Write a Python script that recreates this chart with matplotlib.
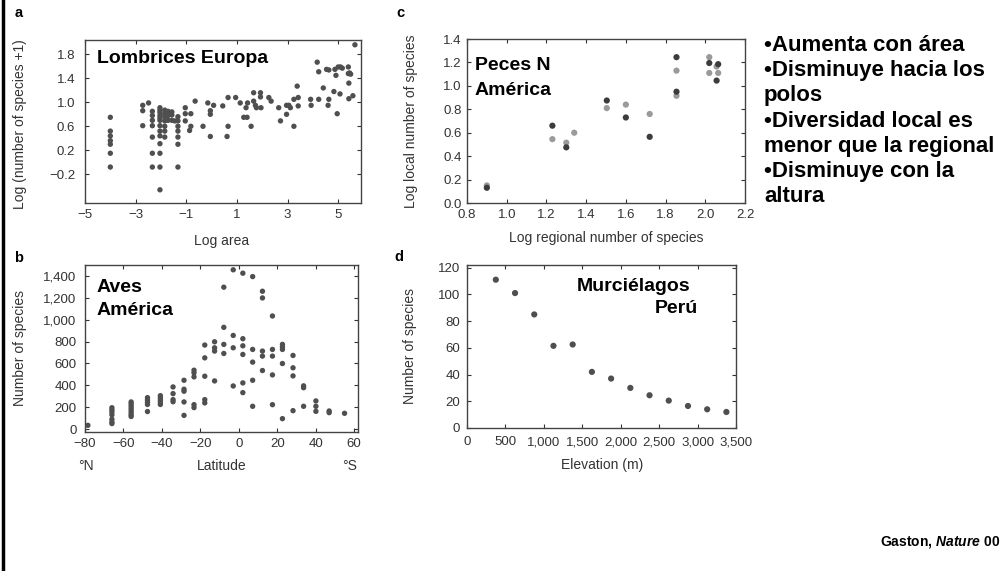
import matplotlib
matplotlib.use("Agg")
import matplotlib.pyplot as plt
from matplotlib.lines import Line2D

plt.rcParams['font.family'] = ['Liberation Sans', 'DejaVu Sans']
plt.rcParams['mathtext.fontset'] = 'custom'
plt.rcParams['mathtext.it'] = 'Liberation Sans:italic:bold'
plt.rcParams['mathtext.rm'] = 'Liberation Sans:bold'

# --- a: earthworms Europe (log area vs log species+1)
worm_x = [-4, -4, -4, -4, -4, -4, -4,
          -2.72, -2.72, -2.72, -2.49,
          -2.34, -2.34, -2.34, -2.34, -2.34, -2.34, -2.34,
          -2.04, -2.04, -2.04, -2.04, -2.04, -2.04, -2.04, -2.04, -2.04, -2.04, -2.04, -2.04, -2.04,
          -1.85, -1.85, -1.85, -1.85, -1.85, -1.85, -1.85,
          -1.72, -1.72, -1.72, -1.57, -1.57, -1.57, -1.45,
          -1.33, -1.33, -1.33, -1.33, -1.33, -1.33, -1.33,
          -1.04, -1.04, -1.04, -0.87, -0.82, -0.82, -0.65, -0.34, -0.15,
          -0.05, -0.05, -0.05, 0.08, 0.44, 0.65, 0.65, 0.61, 0.95, 1.13,
          1.27, 1.40, 1.36, 1.42, 1.56, 1.66, 1.66, 1.73, 1.77, 1.93, 1.93, 1.95,
          2.26, 2.35, 2.65, 2.72, 2.96, 2.96, 3.05, 3.11, 3.25, 3.25, 3.38, 3.42, 3.42,
          3.91, 3.93, 4.17, 4.23, 4.23, 4.41, 4.54, 4.60, 4.63, 4.63, 4.83, 4.87, 4.91,
          4.96, 5.0, 5.09, 5.07, 5.16, 5.40, 5.40, 5.45, 5.42, 5.42, 5.49, 5.58, 5.66]
worm_y = [0.75, 0.52, 0.44, 0.36, 0.30, 0.15, -0.08,
          0.95, 0.86, 0.61, 0.99,
          0.85, 0.78, 0.70, 0.61, 0.42, 0.15, -0.08,
          0.91, 0.87, 0.83, 0.78, 0.74, 0.70, 0.61, 0.52, 0.44, 0.31, 0.15, -0.08, -0.46,
          0.87, 0.81, 0.76, 0.69, 0.60, 0.52, 0.42,
          0.85, 0.78, 0.70, 0.84, 0.79, 0.70, 0.69,
          0.76, 0.69, 0.60, 0.52, 0.42, 0.30, -0.08,
          0.91, 0.81, 0.69, 0.53, 0.81, 0.60, 1.02, 0.60, 0.99,
          0.86, 0.80, 0.43, 0.95, 0.94, 1.08, 0.60, 0.43, 1.08, 0.99,
          0.75, 0.75, 0.91, 0.99, 0.60, 1.16, 1.02, 0.95, 0.91, 1.16, 1.09, 0.91,
          1.08, 1.02, 0.91, 0.69, 0.95, 0.80, 0.95, 0.91, 0.60, 1.05, 1.27, 1.08, 0.94,
          1.05, 0.95, 1.67, 1.51, 1.05, 1.24, 1.55, 0.95, 1.54, 1.05, 1.18, 1.55, 1.45,
          0.81, 1.59, 1.59, 1.14, 1.57, 1.59, 1.48, 1.49, 1.32, 1.06, 1.47, 1.11, 1.96]

# --- b: birds America (latitude vs species)
bird_lat = [-78.5,
            -66, -66, -66, -66, -66, -66, -66,
            -56, -56, -56, -56, -56, -56, -56, -56,
            -47.5, -47.5, -47.5, -47.5, -47.5,
            -40.8, -40.8, -40.8, -40.8, -40.8,
            -34.2, -34.2, -34.2, -34.2,
            -28.5, -28.5, -28.5, -28.5, -28.5,
            -23.3, -23.3, -23.3, -23.3, -23.3,
            -17.7, -17.7, -17.7, -17.7, -17.7,
            -12.6, -12.6, -12.6, -12.6,
            -7.8, -7.8, -7.8, -7.8,
            -2.9, -2.9, -2.9, -2.9,
            2.1, 2.1, 2.1, 2.1, 2.1, 2.1,
            7.2, 7.2, 7.2, 7.2, 7.2,
            12.3, 12.3, 12.3, 12.3, 12.3,
            17.5, 17.5, 17.5, 17.5, 17.5,
            22.7, 22.7, 22.7, 22.7, 22.7,
            28.2, 28.2, 28.2, 28.2,
            33.7, 33.7, 33.7,
            40.1, 40.1, 40.1,
            47, 47, 55]
bird_n = [34,
          195, 175, 155, 130, 90, 65, 50,
          248, 230, 210, 190, 170, 150, 130, 115,
          287, 265, 245, 225, 160,
          305, 285, 265, 245, 225,
          385, 324, 269, 250,
          446, 364, 346, 248, 125,
          538, 514, 477, 223, 196,
          768, 651, 483, 269, 239,
          798, 743, 713, 440,
          1297, 930, 774, 691,
          1456, 856, 743, 394,
          1425, 826, 761, 682, 422, 333,
          1394, 728, 612, 446, 208,
          1260, 1199, 713, 667, 535,
          1034, 728, 667, 495, 223,
          774, 752, 728, 599, 95,
          673, 560, 486, 168,
          395, 378, 208,
          257, 208, 162,
          165, 150, 144]

# --- c: fishes N America (regional vs local), two groups
fish_dark_x = [0.90, 1.23, 1.30, 1.504, 1.60, 1.72, 1.855, 1.855, 2.02, 2.057, 2.065]
fish_dark_y = [0.13, 0.66, 0.475, 0.875, 0.73, 0.565, 1.245, 0.95, 1.195, 1.045, 1.185]
fish_light_x = [0.90, 1.23, 1.30, 1.34, 1.504, 1.60, 1.72, 1.855, 1.855, 2.02, 2.02, 2.057, 2.065]
fish_light_y = [0.15, 0.545, 0.515, 0.60, 0.81, 0.84, 0.76, 1.13, 0.915, 1.245, 1.11, 1.165, 1.11]

# --- d: bats Peru (elevation vs species)
elevation = [375, 625, 875, 1125, 1375, 1625, 1875, 2125, 2375, 2625, 2875, 3125, 3375]
bat_n = [111, 101, 85, 61.5, 62.5, 42, 37, 30, 24.5, 20.5, 16.5, 14, 12]

bullets = ['•Aumenta con área', '•Disminuye hacia los', 'polos',
           '•Diversidad local es', 'menor que la regional',
           '•Disminuye con la', 'altura']

W, H = 1005, 571
fig = plt.figure(figsize=(W / 100, H / 100), dpi=100)
dot = '#4f4f4f'
ink = '#333333'


def rect(l, t, r, b):
    return [l / W, 1 - b / H, (r - l) / W, (b - t) / H]


def ft(x, y, s, **kw):
    kw.setdefault('color', ink)
    return fig.text(x / W, 1 - y / H, s, **kw)


def style(ax, xpad, ypad):
    ax.tick_params(direction='in', top=True, right=True, length=3, width=0.8,
                   colors=ink, labelsize=9.5)
    ax.tick_params(axis='x', pad=xpad)
    ax.tick_params(axis='y', pad=ypad)
    for sp in ax.spines.values():
        sp.set_color('#444444')
        sp.set_linewidth(1.0)


def minus(v, fmt):
    return fmt.format(v).replace('-', '\u2212')


# panel a
ax = fig.add_axes(rect(85, 40, 361, 203))
ax.scatter(worm_x, worm_y, s=15, color=dot, edgecolors='none')
ax.set_xlim(-5, 5.9)
ax.set_ylim(-0.68, 2.04)
xt = [-5, -3, -1, 1, 3, 5]
ax.set_xticks(xt, [minus(v, '{}') for v in xt])
yt = [-0.2, 0.2, 0.6, 1.0, 1.4, 1.8]
ax.set_yticks(yt, [minus(v, '{:.1f}') for v in yt])
style(ax, 4, 7)

# panel b
ax = fig.add_axes(rect(85, 265, 358, 432))
ax.scatter(bird_lat, bird_n, s=15, color=dot, edgecolors='none')
ax.set_xlim(-80, 62)
ax.set_ylim(-27, 1500)
xt = list(range(-80, 61, 20))
ax.set_xticks(xt, [minus(v, '{}') for v in xt])
yt = list(range(0, 1401, 200))
ax.set_yticks(yt, ['{:,}'.format(v) for v in yt])
style(ax, 4, 6)

# panel c
ax = fig.add_axes(rect(467, 39, 745, 203))
ax.scatter(fish_light_x, fish_light_y, s=20, color='#9a9a9a', edgecolors='none')
ax.scatter(fish_dark_x, fish_dark_y, s=20, color='#3c3c3c', edgecolors='none')
ax.set_xlim(0.8, 2.2)
ax.set_ylim(0, 1.4)
xt = [0.8, 1.0, 1.2, 1.4, 1.6, 1.8, 2.0, 2.2]
ax.set_xticks(xt, ['{:.1f}'.format(v) for v in xt])
yt = [0.0, 0.2, 0.4, 0.6, 0.8, 1.0, 1.2, 1.4]
ax.set_yticks(yt, ['{:.1f}'.format(v) for v in yt])
style(ax, 4, 4)

# panel d
ax = fig.add_axes(rect(467, 265, 736, 428))
ax.scatter(elevation, bat_n, s=20, color=dot, edgecolors='none')
ax.set_xlim(0, 3500)
ax.set_ylim(0, 122)
xt = list(range(0, 3501, 500))
ax.set_xticks(xt, ['{:,}'.format(v) for v in xt])
ax.set_yticks(list(range(0, 121, 20)))
style(ax, 6, 5)

# axis labels
lab = dict(fontsize=10, ha='center', va='center')
ft(20, 124, 'Log (number of species +1)', rotation=90, **lab)
ft(222, 241, 'Log area', **lab)
ft(20, 348, 'Number of species', rotation=90, **lab)
ft(222, 466, 'Latitude', **lab)
ft(86, 466, '°N', **lab)
ft(350, 466, '°S', **lab)
ft(411, 121, 'Log local number of species', rotation=90, **lab)
ft(606, 238, 'Log regional number of species', **lab)
ft(410, 346, 'Number of species', rotation=90, **lab)
ft(602, 465, 'Elevation (m)', **lab)

# panel letters
for x, y, s in [(19, 17, 'a'), (19, 262, 'b'), (400, 17, 'c'), (399, 261, 'd')]:
    ft(x, y, s, fontsize=10.5, fontweight='bold', color='black', ha='center', va='baseline')

# in-panel titles
big = dict(fontsize=14, fontweight='bold', color='black', va='baseline')
ft(97, 63, 'Lombrices Europa', **big)
ft(97, 292, 'Aves', **big)
ft(97, 315, 'América', **big)
ft(475, 70, 'Peces N', **big)
ft(475, 95, 'América', **big)
ft(577, 291, 'Murciélagos', **big)
ft(698, 313, 'Perú', ha='right', **big)

# bullet list
for i, line in enumerate(bullets):
    ft(764, 51 + 25.2 * i, line, fontsize=16, fontweight='bold', color='black', va='baseline')

ft(1000, 546, r'Gaston, $\mathit{Nature}$ 00', fontsize=10, fontweight='bold',
   color='black', ha='right', va='baseline')

fig.add_artist(Line2D([3 / W, 3 / W], [0, 1], lw=2.5, color='black', transform=fig.transFigure))

fig.savefig('out.png', dpi=100)
